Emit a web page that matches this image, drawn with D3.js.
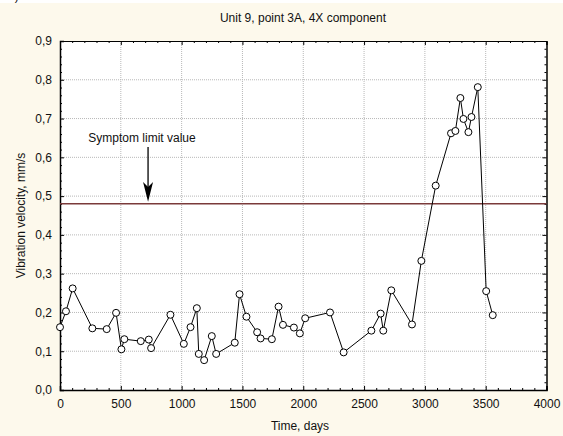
<!DOCTYPE html>
<html><head><meta charset="utf-8">
<script src="https://cdn.jsdelivr.net/npm/d3@7"></script>
<style>
html,body{margin:0;padding:0;background:#fff;}
svg{display:block;}
text{font-family:"Liberation Sans",Arial,sans-serif;fill:#111;}
</style></head><body>
<svg id="chart" width="563" height="436"></svg>
<script>
const title = "Unit 9, point 3A, 4X component";
const xLabel = "Time, days";
const yLabel = "Vibration velocity, mm/s";
const days = [0,49,104,266,384,461,505,529,664,730,749,908,1018,1073,1125,1141,1185,1248,1284,1437,1476,1533,1621,1649,1742,1797,1833,1923,1972,2016,2220,2332,2560,2636,2658,2724,2894,2971,3089,3215,3251,3292,3317,3358,3383,3435,3504,3558];
const velocity = [0.162,0.203,0.262,0.159,0.157,0.199,0.105,0.131,0.126,0.130,0.108,0.194,0.119,0.162,0.211,0.093,0.077,0.139,0.093,0.122,0.247,0.189,0.149,0.133,0.131,0.215,0.168,0.161,0.146,0.185,0.200,0.097,0.153,0.197,0.153,0.257,0.169,0.333,0.527,0.662,0.668,0.753,0.699,0.665,0.704,0.781,0.255,0.193];
const xTicks = [0,500,1000,1500,2000,2500,3000,3500,4000];
const yTicks = [0,0.1,0.2,0.3,0.4,0.5,0.6,0.7,0.8,0.9];
const limitValue = 0.48;
const limitLabel = "Symptom limit value";
const arrowDay = 724;

(function(){
const svg = d3.select("#chart");
const W = 563, H = 436;
const L = 60, R = 546.5, T = 41, B = 390;
svg.append("rect").attr("x",0).attr("y",3).attr("width",W).attr("height",H-3).attr("fill","#fdf9ec");
svg.append("text").attr("x",8).attr("y",0).attr("font-size",12).text("a)");

const x = d3.scaleLinear().domain([0,4000]).range([L,R]);
const y = d3.scaleLinear().domain([0,0.9]).range([B,T]);

svg.append("rect").attr("x",L).attr("y",T).attr("width",R-L).attr("height",B-T).attr("fill","#fff");

// grid
const g = svg.append("g");
g.selectAll(".gx").data(xTicks.slice(1,-1)).join("line")
  .attr("x1",d=>x(d)).attr("x2",d=>x(d)).attr("y1",T).attr("y2",B)
  .attr("stroke","#b8b8b8").attr("stroke-dasharray","1,1").attr("stroke-width",1);
g.selectAll(".gy").data(yTicks.slice(1,-1)).join("line")
  .attr("y1",d=>y(d)).attr("y2",d=>y(d)).attr("x1",L).attr("x2",R)
  .attr("stroke","#b8b8b8").attr("stroke-dasharray","1,1").attr("stroke-width",1);

// axes with inward ticks
const xMinor = d3.range(0,4001,100).filter(d=>d%500!==0);
const yMinor = d3.range(0,46,1).map(d=>d*0.02).filter(d=>Math.abs(d*10-Math.round(d*10))>1e-6);
const axB = svg.append("g").attr("transform",`translate(0,${B})`)
  .call(d3.axisBottom(x).tickValues(xTicks).tickSize(-4).tickPadding(9).tickFormat(d3.format("d")));
svg.append("g").attr("transform",`translate(0,${T})`)
  .call(d3.axisTop(x).tickValues(xTicks).tickSize(-4).tickFormat(""));
const axL = svg.append("g").attr("transform",`translate(${L},0)`)
  .call(d3.axisLeft(y).tickValues(yTicks).tickSize(-4).tickPadding(8).tickFormat(d=>d3.format(".1f")(d).replace(".",",")));
svg.append("g").attr("transform",`translate(${R},0)`)
  .call(d3.axisRight(y).tickValues(yTicks).tickSize(-4).tickFormat(""));
svg.append("g").attr("transform",`translate(0,${B})`).call(d3.axisBottom(x).tickValues(xMinor).tickSize(-2).tickFormat(""));
svg.append("g").attr("transform",`translate(0,${T})`).call(d3.axisTop(x).tickValues(xMinor).tickSize(-2).tickFormat(""));
svg.append("g").attr("transform",`translate(${L},0)`).call(d3.axisLeft(y).tickValues(yMinor).tickSize(-2).tickFormat(""));
svg.append("g").attr("transform",`translate(${R},0)`).call(d3.axisRight(y).tickValues(yMinor).tickSize(-2).tickFormat(""));
svg.selectAll(".domain").attr("stroke","#000");
svg.selectAll(".tick line").attr("stroke","#000");
svg.selectAll(".tick text").attr("font-size",12).attr("fill","#111").style("font-family","'Liberation Sans',Arial,sans-serif");
axB.select(".domain").attr("stroke-width",1.5);
axL.select(".domain").attr("stroke-width",1.5);

// limit line
svg.append("line").attr("x1",L).attr("x2",R).attr("y1",y(limitValue)).attr("y2",y(limitValue))
  .attr("stroke","#7a3a3a").attr("stroke-width",1.5);

// arrow
const ax = x(arrowDay);
svg.append("line").attr("x1",ax).attr("x2",ax).attr("y1",147).attr("y2",188).attr("stroke","#000").attr("stroke-width",1.3);
svg.append("path").attr("d",`M${ax},${y(limitValue)-2} L${ax-5},${182} L${ax},${187} L${ax+5},${182} Z`).attr("fill","#000");
svg.append("text").attr("x",ax-6).attr("y",141.5).attr("text-anchor","middle").attr("font-size",12).text(limitLabel);

// data line
const pts = days.map((d,i)=>[d,velocity[i]]);
svg.append("path").datum(pts)
  .attr("d",d3.line().x(d=>x(d[0])).y(d=>y(d[1])))
  .attr("fill","none").attr("stroke","#000").attr("stroke-width",1);
svg.selectAll(".pt").data(pts).join("circle")
  .attr("cx",d=>x(d[0])).attr("cy",d=>y(d[1])).attr("r",3.5)
  .attr("fill","#fff").attr("stroke","#000").attr("stroke-width",1);

// labels
svg.append("text").attr("x",303).attr("y",22).attr("text-anchor","middle").attr("font-size",12).text(title);
svg.append("text").attr("x",300).attr("y",430).attr("text-anchor","middle").attr("font-size",12).text(xLabel);
svg.append("text").attr("transform",`translate(25,215.5) rotate(-90)`).attr("text-anchor","middle").attr("font-size",12).text(yLabel);
})();
</script>
</body></html>
